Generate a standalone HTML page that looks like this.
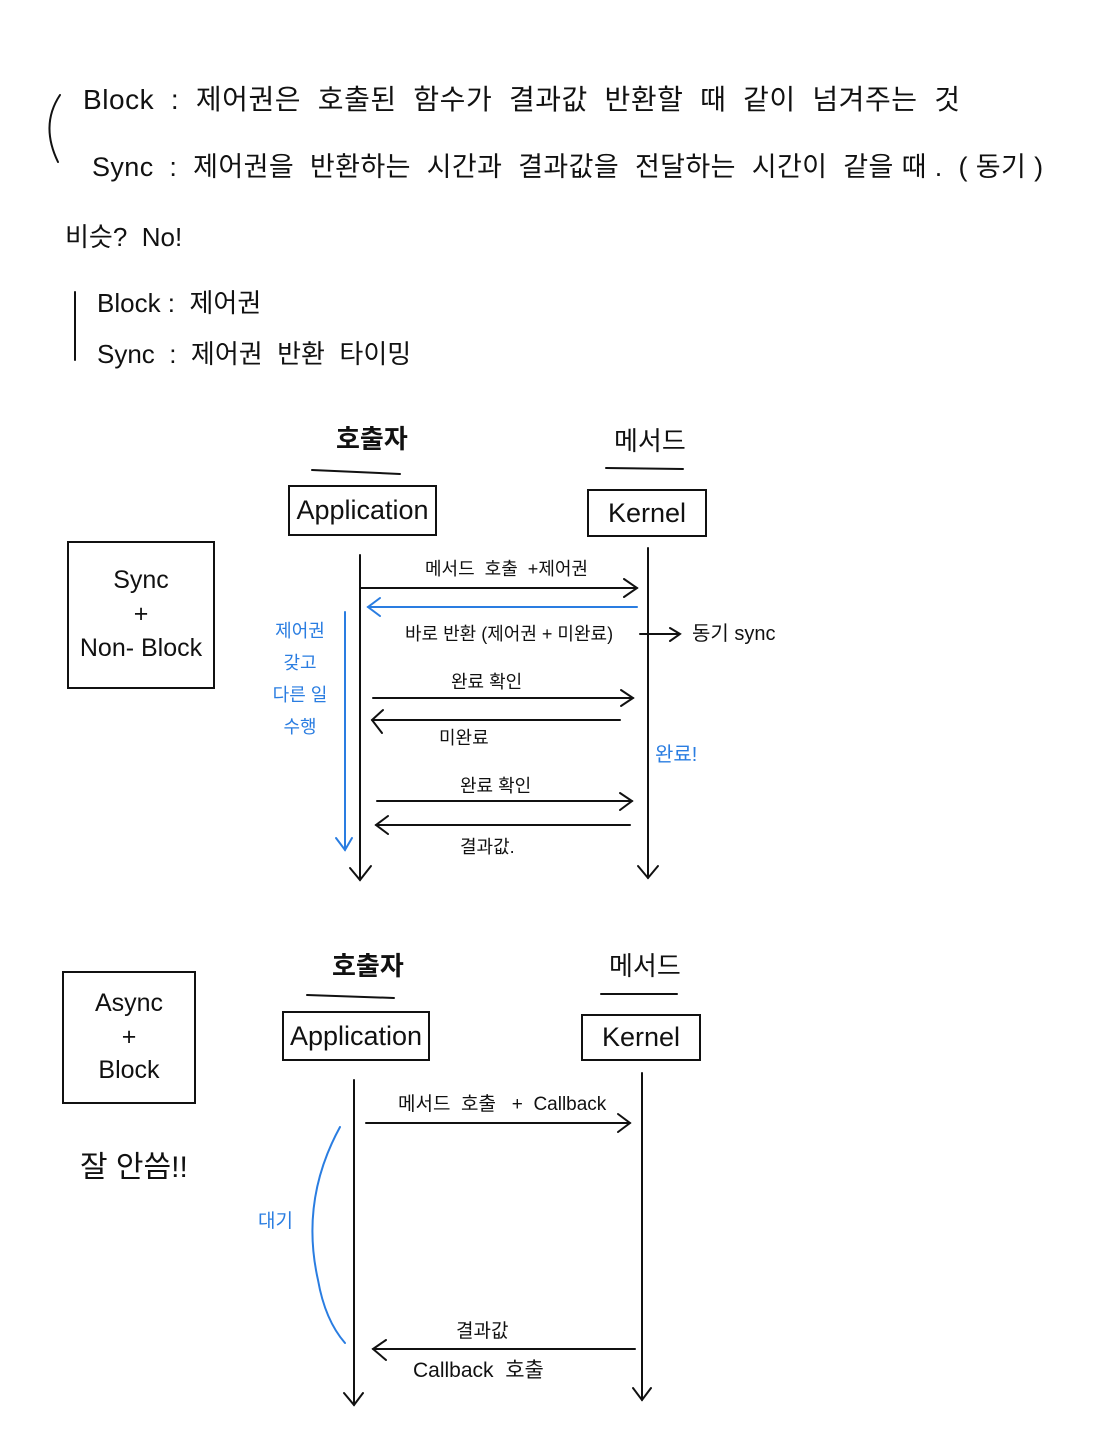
<!DOCTYPE html>
<html><head><meta charset="utf-8">
<style>
html,body{margin:0;padding:0;background:#fff;}
body{width:1116px;height:1440px;position:relative;overflow:hidden;font-family:"Liberation Sans","Noto Sans CJK KR","NanumGothic",sans-serif;color:#111;}
.t{position:absolute;white-space:nowrap;line-height:1;}
.b{color:#2a7de1;}
.box{position:absolute;border:2px solid #111;box-sizing:border-box;display:flex;align-items:center;justify-content:center;text-align:center;}
svg{position:absolute;left:0;top:0;}
</style></head><body>
<svg width="1116" height="1440" viewBox="0 0 1116 1440" fill="none" stroke="#111" stroke-width="2" stroke-linecap="round">
<path d="M60 95 Q40 125 58 162"/>
<line x1="75" y1="292" x2="75" y2="360"/>
<line x1="312" y1="470" x2="400" y2="474"/>
<line x1="606" y1="468" x2="683" y2="469"/>
<line x1="360" y1="555" x2="360" y2="880"/><path d="M350 868 L360 880 L371 866"/>
<line x1="648" y1="548" x2="648" y2="878"/><path d="M638 866 L648 878 L658 866"/>
<line x1="361" y1="588" x2="637" y2="588"/><path d="M624 579 L637 588 L624 597"/>
<g stroke="#2a7de1"><line x1="637" y1="607" x2="368" y2="607"/><path d="M380 598 L368 607 L380 616"/>
<line x1="345" y1="612" x2="345" y2="850"/><path d="M336 838 L345 850 L352 838"/></g>
<line x1="640" y1="634" x2="678" y2="634"/><path d="M670 628 L680 634 L670 641"/>
<line x1="373" y1="698" x2="633" y2="698"/><path d="M621 690 L633 698 L621 706"/>
<line x1="620" y1="720" x2="372" y2="720"/><path d="M383 710 L372 720 L382 733"/>
<line x1="377" y1="801" x2="632" y2="801"/><path d="M620 793 L632 801 L620 810"/>
<line x1="630" y1="825" x2="376" y2="825"/><path d="M388 816 L376 825 L388 834"/>
<line x1="307" y1="995" x2="394" y2="998"/>
<line x1="601" y1="994" x2="677" y2="994"/>
<line x1="354" y1="1080" x2="354" y2="1405"/><path d="M344 1393 L354 1405 L363 1393"/>
<line x1="642" y1="1073" x2="642" y2="1400"/><path d="M633 1388 L642 1400 L651 1388"/>
<line x1="366" y1="1123" x2="630" y2="1123"/><path d="M618 1114 L630 1123 L618 1132"/>
<path stroke="#2a7de1" d="M340 1127 Q300 1200 318 1280 Q325 1320 345 1343"/>
<line x1="635" y1="1349" x2="373" y2="1349"/><path d="M386 1340 L373 1349 L386 1360"/>
</svg>

<div class="t" style="left:83px;top:86px;font-size:28px;letter-spacing:0.55px;">Block&nbsp; :&nbsp; 제어권은&nbsp; 호출된&nbsp; 함수가&nbsp; 결과값&nbsp; 반환할&nbsp; 때&nbsp; 같이&nbsp; 넘겨주는&nbsp; 것</div>
<div class="t" style="left:92px;top:154px;font-size:27px;letter-spacing:0.4px;">Sync&nbsp; :&nbsp; 제어권을&nbsp; 반환하는&nbsp; 시간과&nbsp; 결과값을&nbsp; 전달하는&nbsp; 시간이&nbsp; 같을 때 .&nbsp; ( 동기 )</div>
<div class="t" style="left:65px;top:224px;font-size:26px;">비슷?&nbsp; No!</div>
<div class="t" style="left:97px;top:290px;font-size:26px;">Block :&nbsp; 제어권</div>
<div class="t" style="left:97px;top:341px;font-size:26px;">Sync&nbsp; :&nbsp; 제어권&nbsp; 반환&nbsp; 타이밍</div>

<div class="t" style="left:336px;top:426px;font-size:26px;font-weight:bold;">호출자</div>
<div class="t" style="left:614px;top:428px;font-size:26px;">메서드</div>
<div class="box" style="left:288px;top:485px;width:149px;height:51px;font-size:27px;">Application</div>
<div class="box" style="left:587px;top:489px;width:120px;height:48px;font-size:27px;">Kernel</div>
<div class="box" style="left:67px;top:541px;width:148px;height:148px;font-size:25px;line-height:1.35;">Sync<br>+<br>Non- Block</div>
<div class="t" style="left:425px;top:560px;font-size:18px;">메서드&nbsp; 호출&nbsp; +제어권</div>
<div class="t" style="left:405px;top:625px;font-size:18px;">바로 반환 (제어권 + 미완료)</div>
<div class="t" style="left:692px;top:624px;font-size:20px;">동기 sync</div>
<div class="t b" style="left:262px;top:615px;font-size:18px;line-height:32px;text-align:center;width:76px;">제어권<br>갖고<br>다른 일<br>수행</div>
<div class="t" style="left:451px;top:673px;font-size:18px;">완료 확인</div>
<div class="t" style="left:439px;top:729px;font-size:18px;">미완료</div>
<div class="t b" style="left:655px;top:745px;font-size:20px;">완료!</div>
<div class="t" style="left:460px;top:777px;font-size:18px;">완료 확인</div>
<div class="t" style="left:460px;top:838px;font-size:18px;">결과값.</div>

<div class="t" style="left:332px;top:953px;font-size:26px;font-weight:bold;">호출자</div>
<div class="t" style="left:609px;top:953px;font-size:26px;">메서드</div>
<div class="box" style="left:282px;top:1011px;width:148px;height:50px;font-size:27px;">Application</div>
<div class="box" style="left:581px;top:1014px;width:120px;height:47px;font-size:27px;">Kernel</div>
<div class="box" style="left:62px;top:971px;width:134px;height:133px;font-size:25px;line-height:1.35;">Async<br>+<br>Block</div>
<div class="t" style="left:80px;top:1153px;font-size:30px;">잘 안씀!!</div>
<div class="t" style="left:398px;top:1095px;font-size:19px;">메서드&nbsp; 호출&nbsp;&nbsp; +&nbsp; Callback</div>
<div class="t b" style="left:258px;top:1212px;font-size:19px;">대기</div>
<div class="t" style="left:456px;top:1322px;font-size:19px;">결과값</div>
<div class="t" style="left:413px;top:1360px;font-size:21px;">Callback&nbsp; 호출</div>
</body></html>
